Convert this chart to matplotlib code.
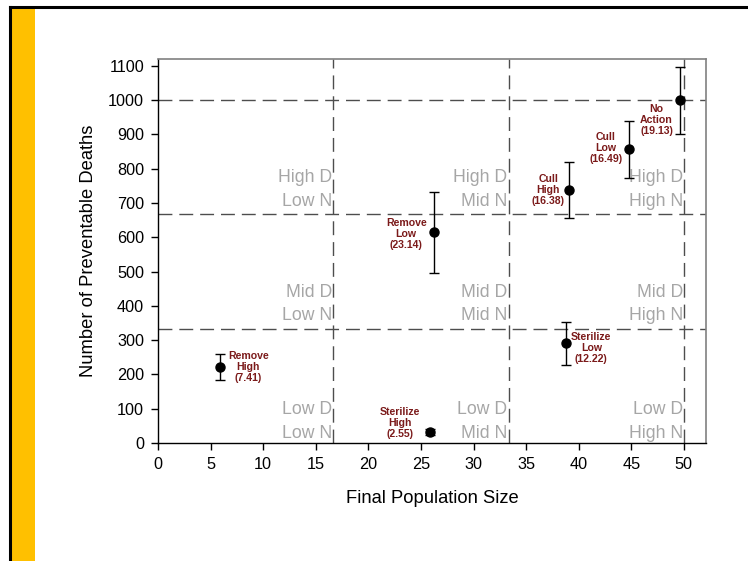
import matplotlib
matplotlib.use("Agg")
import matplotlib.pyplot as plt
from matplotlib.patches import Rectangle
from matplotlib.lines import Line2D

plt.rcParams['font.family'] = ['Liberation Sans', 'DejaVu Sans']

# treatment results
labels = ["Remove\nHigh\n(7.41)", "Sterilize\nHigh\n(2.55)", "Remove\nLow\n(23.14)",
          "Sterilize\nLow\n(12.22)", "Cull\nHigh\n(16.38)", "Cull\nLow\n(16.49)",
          "No\nAction\n(19.13)"]
pop_size = [5.9, 25.85, 26.2, 38.8, 39.1, 44.8, 49.6]
deaths = [222, 32, 615, 291, 738, 857, 1000]
deaths_err = [38, 10, 118, 62, 83, 83, 98]
# where the red labels sit (data coords)
label_x = [8.6, 23.0, 23.6, 41.2, 37.1, 42.6, 47.4]
label_y = [222, 58, 610, 277, 738, 860, 942]

# region boundaries
x_bounds = [16.67, 33.33, 50]
y_bounds = [333.3, 666.7, 1000]
d_names = ["Low D", "Mid D", "High D"]
n_names = ["Low N", "Mid N", "High N"]
# vertical text positions (top, bottom line) of each row of region labels
row_text_y = [(99, 29), (440, 373), (775, 703)]

xticks = list(range(0, 55, 5))
yticks = list(range(0, 1200, 100))

fig = plt.figure(figsize=(7.48, 5.61), dpi=100)

# slide decoration: black frame + yellow stripe
fig.patches.append(Rectangle((0.0147, 0), 0.032, 0.9875, transform=fig.transFigure,
                             facecolor="#FFC000", edgecolor="none", zorder=0))
fig.lines.append(Line2D([0.0134, 1.0], [0.9875, 0.9875], transform=fig.transFigure,
                        color="black", lw=2.2))
fig.lines.append(Line2D([0.0134, 0.0134], [0, 0.9875], transform=fig.transFigure,
                        color="black", lw=2.2))

ax = fig.add_axes([0.2112, 0.2103, 0.7326, 0.6845])

for xb in x_bounds:
    ax.axvline(xb, color="#4d4d4d", lw=1, dashes=(10, 5), zorder=1)
for yb in y_bounds:
    ax.axhline(yb, color="#4d4d4d", lw=1, dashes=(10, 5), zorder=1)

for i, xb in enumerate(x_bounds):
    for j in range(3):
        ax.text(xb - 0.1, row_text_y[j][0], d_names[j], ha="right", va="center",
                fontsize=12.7, color="#a6a6a6", zorder=2)
        ax.text(xb - 0.1, row_text_y[j][1], n_names[i], ha="right", va="center",
                fontsize=12.7, color="#a6a6a6", zorder=2)

ax.errorbar(pop_size, deaths, yerr=deaths_err, fmt="o", color="black", ms=6.5,
            elinewidth=1, capsize=3.5, capthick=1, zorder=4)

for lab, lx, ly in zip(labels, label_x, label_y):
    ax.text(lx, ly, lab, ha="center", va="center", fontsize=7.6, fontweight="bold",
            color="#7b1a1a", linespacing=1.1, zorder=5)

ax.set_xlim(0, 52.1)
ax.set_ylim(0, 1120)
ax.set_xticks(xticks)
ax.set_yticks(yticks)
ax.tick_params(direction="out", length=5, width=1, labelsize=11.7, pad=5)
ax.spines["top"].set_color("#808080")
ax.spines["right"].set_color("#808080")
ax.spines["top"].set_linewidth(1.2)
ax.spines["right"].set_linewidth(1.2)
ax.spines["left"].set_linewidth(1)
ax.spines["bottom"].set_linewidth(1)

ax.set_xlabel("Final Population Size", fontsize=13.2, labelpad=13)
ax.set_ylabel("Number of Preventable Deaths", fontsize=13.2, labelpad=8)

fig.savefig("out.png", dpi=100)
